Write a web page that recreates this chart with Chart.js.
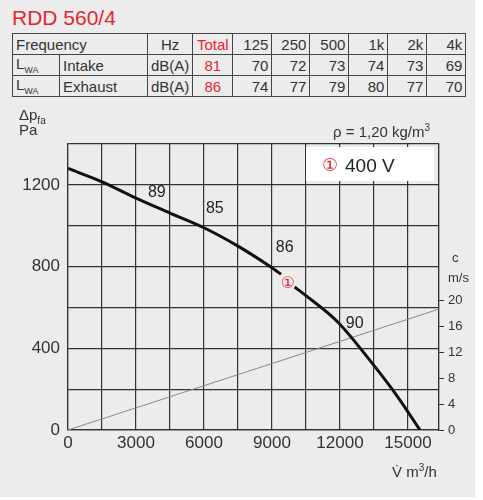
<!DOCTYPE html>
<html><head><meta charset="utf-8">
<script src="https://cdn.jsdelivr.net/npm/chart.js@4"></script>
<style>
body{margin:0;background:#fff;font-family:"Liberation Sans",Arial,sans-serif}
#wrap{position:relative;width:475px;height:497px;background:#ececec}
#title{position:absolute;left:12px;top:6px;color:#e3262e;font-size:21px}
table{position:absolute;left:12px;top:33px;border-collapse:collapse;font-family:"Liberation Sans Narrow","Liberation Sans",sans-serif;font-size:15px;color:#333}
td{border:1px solid #444;height:20px;padding:0 3px;text-align:right}
td.l{text-align:left}
.r{color:#e3262e}
canvas{position:absolute;left:0;top:0}
</style></head><body>
<div id="wrap">
<div id="title">RDD 560/4</div>
<table>
<tr><td class="l" colspan="2" style="width:128px">Frequency</td><td style="width:38px;text-align:center">Hz</td><td class="r" style="width:33px;text-align:center">Total</td><td style="width:32px">125</td><td style="width:31px">250</td><td style="width:32px">500</td><td style="width:32px">1k</td><td style="width:32px">2k</td><td style="width:32px">4k</td></tr>
<tr id="r1"></tr>
<tr id="r2"></tr>
</table>
<canvas id="c" width="483" height="500"></canvas>
</div>
<script>
var intake = [81, 70, 72, 73, 74, 73, 69];
var exhaust = [86, 74, 77, 79, 80, 77, 70];

// fan curve (m3/h, Pa)
var flowA = [0, 1500, 3000, 4500, 6000, 7500, 9000, 9400];
var pressA = [1280, 1215, 1135, 1062, 990, 900, 794, 762];
var flowB = [10000, 10500, 11900, 13400, 14500, 15530];
var pressB = [700, 658, 529, 330, 170, 0];
// outlet velocity line (m3/h, m/s)
var velFlow = [0, 16370];
var vel = [0, 18.6];

var pointLabels = [['89', 3920, 1140], ['85', 6480, 1060], ['86', 9560, 870], ['90', 12650, 500]];

function fillRow(id, name, vals) {
  var h = '<td class="l" style="width:40px">L<sub style="font-size:9px">WA</sub></td><td class="l">' + name + '</td><td style="text-align:center">dB(A)</td>';
  vals.forEach(function (v, i) { h += '<td' + (i == 0 ? ' class="r" style="text-align:center"' : '') + '>' + v + '</td>'; });
  document.getElementById(id).innerHTML = h;
}
fillRow('r1', 'Intake', intake);
fillRow('r2', 'Exhaust', exhaust);

function pts(xs, ys) { return xs.map(function (x, i) { return {x: x, y: ys[i]}; }); }

// draws a run of text pieces, [text, size, dy]
function run(ctx, x, y, parts) {
  parts.forEach(function (p) {
    ctx.font = p[1] + 'px "Liberation Sans"';
    ctx.fillText(p[0], x, y + p[2]);
    x += ctx.measureText(p[0]).width;
  });
}

var extras = {
  id: 'extras',
  afterDraw: function (chart) {
    var ctx = chart.ctx, x = chart.scales.x, y = chart.scales.y;
    ctx.save();
    ctx.fillStyle = '#222';
    ctx.font = '16px "Liberation Sans"';
    ctx.textAlign = 'center';
    pointLabels.forEach(function (p) {
      ctx.fillText(p[0], x.getPixelForValue(p[1]), y.getPixelForValue(p[2]));
    });
    ctx.fillStyle = '#e3262e';
    ctx.font = '16px "DejaVu Sans"';
    ctx.fillText('\u2460', 288, 288);
    // 400 V box
    ctx.fillStyle = '#fff';
    ctx.fillRect(306, 147, 128, 34);
    ctx.fillStyle = '#e3262e';
    ctx.font = '18px "DejaVu Sans"';
    ctx.fillText('\u2460', 330, 171);
    ctx.fillStyle = '#222';
    ctx.font = '19px "Liberation Sans"';
    ctx.textAlign = 'left';
    ctx.fillText('400 V', 345, 172);
    // axis titles
    ctx.fillStyle = '#333';
    run(ctx, 19, 120, [['\u0394p', 15, 0], ['fa', 10, 4]]);
    run(ctx, 19, 135, [['Pa', 15, 0]]);
    run(ctx, 333, 137, [['\u03c1 = 1,20 kg/m', 15, 0], ['3', 10, -6]]);
    run(ctx, 452, 262, [['c', 13, 0]]);
    run(ctx, 448, 282, [['m/s', 13, 0]]);
    run(ctx, 392, 477, [['V\u0307 m', 15, 0], ['3', 10, -6], ['/h', 15, 0]]);
    ctx.restore();
  }
};

new Chart(document.getElementById('c'), {
  type: 'scatter',
  data: {
    datasets: [
      {data: pts(flowA, pressA), showLine: true, borderColor: '#111', borderWidth: 3, pointRadius: 0, cubicInterpolationMode: 'monotone'},
      {data: pts(flowB, pressB), showLine: true, borderColor: '#111', borderWidth: 3, pointRadius: 0, cubicInterpolationMode: 'monotone'},
      {data: pts(velFlow, vel), yAxisID: 'c', showLine: true, borderColor: '#888', borderWidth: 1, pointRadius: 0}
    ]
  },
  options: {
    responsive: false, animation: false,
    layout: {padding: {left: 0, top: 144, right: 9, bottom: 30}},
    plugins: {legend: {display: false}, tooltip: {enabled: false}},
    scales: {
      x: {
        min: 0, max: 16370,
        afterFit: function (s) { s.height = 40; },
        afterBuildTicks: function (s) { s.ticks = []; for (var v = 0; v <= 15000; v += 1500) s.ticks.push({value: v}); s.ticks.push({value: 16370}); },
        ticks: {autoSkip: false, maxRotation: 0, color: '#333', font: {size: 17, family: 'Liberation Sans'}, callback: function (v) { return v % 3000 == 0 ? v : ''; }},
        grid: {color: '#333', lineWidth: 1.2, drawTicks: false},
        border: {color: '#333', width: 1.2}
      },
      y: {
        min: 0, max: 1400,
        afterFit: function (s) { s.width = 68; },
        ticks: {stepSize: 200, padding: 8, color: '#333', font: {size: 17, family: 'Liberation Sans'}, callback: function (v) { return v % 400 == 0 ? v : ''; }},
        grid: {color: '#333', lineWidth: 1.2, drawTicks: false},
        border: {color: '#333', width: 1.2}
      },
      c: {
        position: 'right', min: 0, max: 44,
        afterFit: function (s) { s.width = 35; },
        afterBuildTicks: function (s) { s.ticks = []; for (var v = 0; v <= 20; v += 4) s.ticks.push({value: v}); },
        ticks: {color: '#333', font: {size: 13, family: 'Liberation Sans'}, padding: 4},
        grid: {drawOnChartArea: false, color: '#333', tickLength: 5},
        border: {color: '#333', width: 1.2}
      }
    }
  },
  plugins: [extras]
});
</script>
</body></html>
